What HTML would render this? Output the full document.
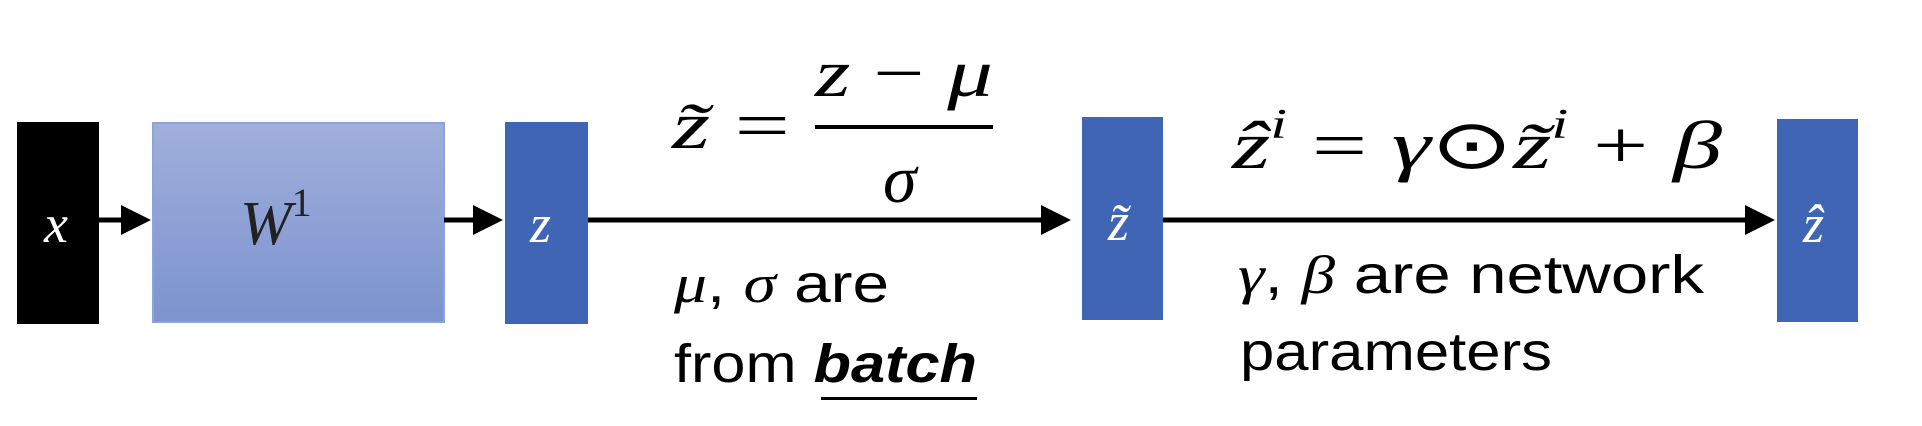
<!DOCTYPE html>
<html><head><meta charset="utf-8"><style>html,body{margin:0;padding:0;background:#fff;width:1922px;height:426px;overflow:hidden}</style></head>
<body>
<svg width="1922" height="426" xmlns="http://www.w3.org/2000/svg" font-family="Liberation Sans, sans-serif">
<defs>
<linearGradient id="wg" x1="0" y1="0" x2="0" y2="1"><stop offset="0" stop-color="#a0afdb"/><stop offset="1" stop-color="#7c93cf"/></linearGradient>
<marker id="ah" markerWidth="6" markerHeight="6" refX="5" refY="3" orient="auto" markerUnits="strokeWidth"><path d="M0,0 L6,3 L0,6 Z" fill="#000"/></marker>
</defs>
<rect x="17" y="122" width="82" height="202" fill="#000"/>
<text x="44" y="242" font-family="Liberation Serif, serif" font-style="italic" font-size="54" fill="#fff">x</text>
<rect x="153" y="123" width="291" height="199" fill="url(#wg)" stroke="#8fa3d8" stroke-width="2"/>
<text x="240" y="244" font-family="Liberation Serif, serif" font-style="italic" font-size="62" fill="#222">W<tspan font-style="normal" font-size="40" dy="-28">1</tspan></text>
<rect x="505" y="122" width="83" height="202" fill="#4065b5"/>
<text x="530" y="242" font-family="Liberation Serif, serif" font-style="italic" font-size="54" fill="#fff">z</text>
<rect x="1082" y="117" width="81" height="203" fill="#4065b5"/>
<text x="1108" y="240" font-family="Liberation Serif, serif" font-style="italic" font-size="54" fill="#fff">z̃</text>
<rect x="1777" y="119" width="81" height="203" fill="#4065b5"/>
<text x="1803" y="242" font-family="Liberation Serif, serif" font-style="italic" font-size="54" fill="#fff">ẑ</text>
<g stroke="#000" stroke-width="5">
<line x1="99" y1="220" x2="146" y2="220" marker-end="url(#ah)"/>
<line x1="444" y1="220" x2="498" y2="220" marker-end="url(#ah)"/>
<line x1="588" y1="220" x2="1066" y2="220" marker-end="url(#ah)"/>
<line x1="1163" y1="220" x2="1770" y2="220" marker-end="url(#ah)"/>
</g>
<g font-family="Liberation Serif, serif" font-size="68" fill="#000">
<text x="672" y="148" textLength="118" lengthAdjust="spacingAndGlyphs"><tspan font-style="italic">z̃</tspan> =</text>
<text x="815" y="96" textLength="178" lengthAdjust="spacingAndGlyphs"><tspan font-style="italic">z</tspan> − <tspan font-style="italic">μ</tspan></text>
<rect x="815" y="125" width="178" height="4"/>
<text x="883" y="202" font-style="italic">σ</text>
<text x="1232" y="168" textLength="490" lengthAdjust="spacingAndGlyphs"><tspan font-style="italic">ẑ</tspan><tspan font-style="italic" font-size="42" dy="-30">i</tspan><tspan dy="30"> = </tspan><tspan font-style="italic">γ</tspan>⊙<tspan font-style="italic">z̃</tspan><tspan font-style="italic" font-size="42" dy="-30">i</tspan><tspan dy="30"> + </tspan><tspan font-style="italic">β</tspan></text>
</g>
<g font-size="54" fill="#000">
<text x="674" y="302" textLength="215" lengthAdjust="spacingAndGlyphs"><tspan font-family="Liberation Serif, serif" font-style="italic">μ</tspan>, <tspan font-family="Liberation Serif, serif" font-style="italic">σ</tspan> are</text>
<text x="674" y="382" textLength="303" lengthAdjust="spacingAndGlyphs">from <tspan font-weight="bold" font-style="italic">batch</tspan></text>
<rect x="821" y="397" width="156" height="3"/>
<text x="1238" y="293" textLength="466" lengthAdjust="spacingAndGlyphs"><tspan font-family="Liberation Serif, serif" font-style="italic">γ</tspan>, <tspan font-family="Liberation Serif, serif" font-style="italic">β</tspan> are network</text>
<text x="1240" y="370" textLength="312" lengthAdjust="spacingAndGlyphs">parameters</text>
</g>
</svg>
</body></html>
